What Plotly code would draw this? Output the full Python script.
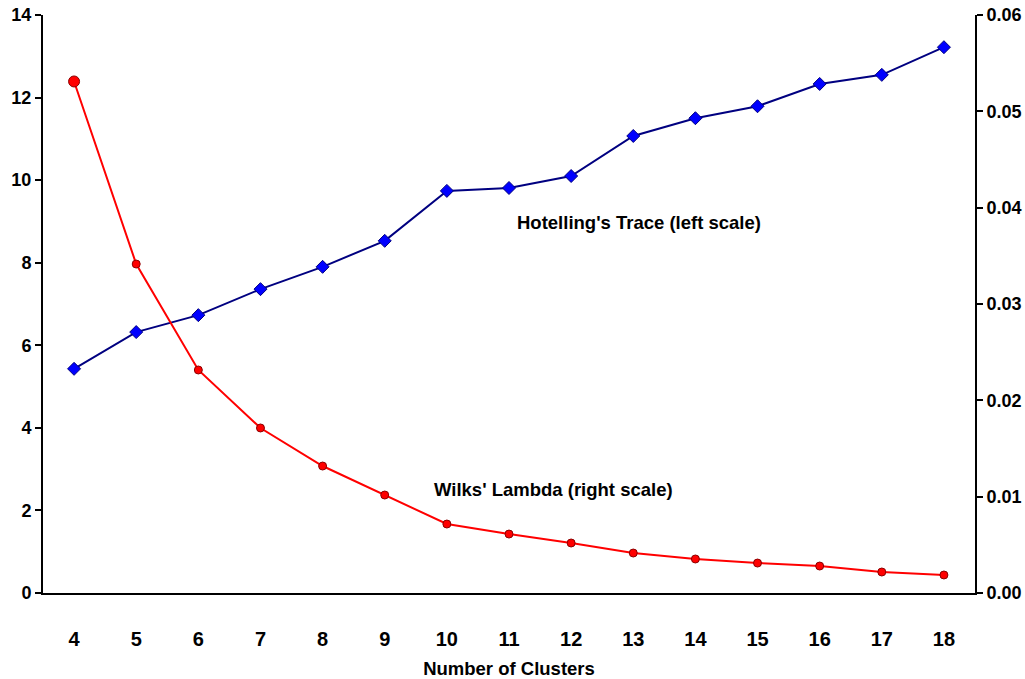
import plotly.graph_objects as go

clusters = [4, 5, 6, 7, 8, 9, 10, 11, 12, 13, 14, 15, 16, 17, 18]
hotelling = [5.43, 6.32, 6.73, 7.36, 7.90, 8.53, 9.74, 9.81, 10.10, 11.07, 11.50, 11.79, 12.33, 12.55, 13.22]
wilks = [0.0531, 0.03415, 0.02315, 0.01713, 0.01318, 0.01017, 0.00716, 0.00612, 0.00519,
         0.00415, 0.00353, 0.00311, 0.0028, 0.00218, 0.00187]
left_ticks = [0, 2, 4, 6, 8, 10, 12, 14]
right_ticks = [0, 0.01, 0.02, 0.03, 0.04, 0.05, 0.06]

FONT = "Liberation Sans, Arial, sans-serif"
W, H = 1025, 679
ML, MR, MT, MB = 43, 50, 15, 86

fig = go.Figure()
fig.add_trace(go.Scatter(
    x=clusters, y=hotelling, mode="lines+markers",
    line=dict(color="#000080", width=2),
    marker=dict(symbol="diamond", size=10, color="#0000FF", line=dict(color="#000080", width=1)),
    yaxis="y", showlegend=False, cliponaxis=False))
fig.add_trace(go.Scatter(
    x=clusters, y=wilks, mode="lines+markers",
    line=dict(color="#FF0000", width=2),
    marker=dict(symbol="circle", size=[11] + [8] * (len(clusters) - 1), color="#FF0000",
                opacity=1, line=dict(color="#8B0000", width=1)),
    yaxis="y2", showlegend=False, cliponaxis=False))

plot_w = W - ML - MR
plot_h = H - MT - MB


def px_to_paper(px, py):
    return (px - ML) / plot_w, (H - MB - py) / plot_h


ann_specs = [("Hotelling's Trace (left scale)", 639, 223), ("Wilks' Lambda (right scale)", 553, 489)]
annotations = []
for text, px, py in ann_specs:
    ax, ay = px_to_paper(px, py)
    annotations.append(dict(text=text, x=ax, y=ay, xref="paper", yref="paper",
                            xanchor="center", yanchor="middle",
                            showarrow=False, font=dict(family=FONT, size=18.5, weight="bold")))

fig.update_layout(
    width=W, height=H,
    margin=dict(l=ML, r=MR, t=MT, b=MB),
    paper_bgcolor="white", plot_bgcolor="white",
    font=dict(family=FONT, color="black", size=16),
    xaxis=dict(
        range=[3.5, 18.5], tickmode="array", tickvals=clusters,
        ticktext=[str(c) for c in clusters], automargin=False,
        showgrid=False, zeroline=False, showline=True, linecolor="black", linewidth=2,
        ticks="", ticklabelstandoff=27, ticklabeloverflow="allow",
        tickfont=dict(family=FONT, size=20, weight="bold"),
        title=dict(text="Number of Clusters", font=dict(family=FONT, size=18.5, weight="bold"), standoff=20),
    ),
    yaxis=dict(
        range=[0, 14], tickmode="array", tickvals=left_ticks, automargin=False,
        showgrid=False, zeroline=False, showline=True, linecolor="black", linewidth=2,
        ticks="outside", ticklen=6, tickwidth=2, tickcolor="black", ticklabeloverflow="allow",
        tickfont=dict(family=FONT, size=18, weight="bold"),
    ),
    yaxis2=dict(
        range=[0, 0.06], tickmode="array", tickvals=right_ticks,
        ticktext=[f"{v:.2f}" for v in right_ticks], automargin=False,
        overlaying="y", side="right",
        showgrid=False, zeroline=False, showline=True, linecolor="black", linewidth=2,
        ticks="outside", ticklen=6, tickwidth=2, tickcolor="black", ticklabeloverflow="allow",
        tickfont=dict(family=FONT, size=18, weight="bold"),
    ),
    annotations=annotations,
)
fig.write_html(
    "out.html",
    config={"displayModeBar": False},
    post_script="document.body.style.margin='0';document.body.style.overflow='hidden';",
)
